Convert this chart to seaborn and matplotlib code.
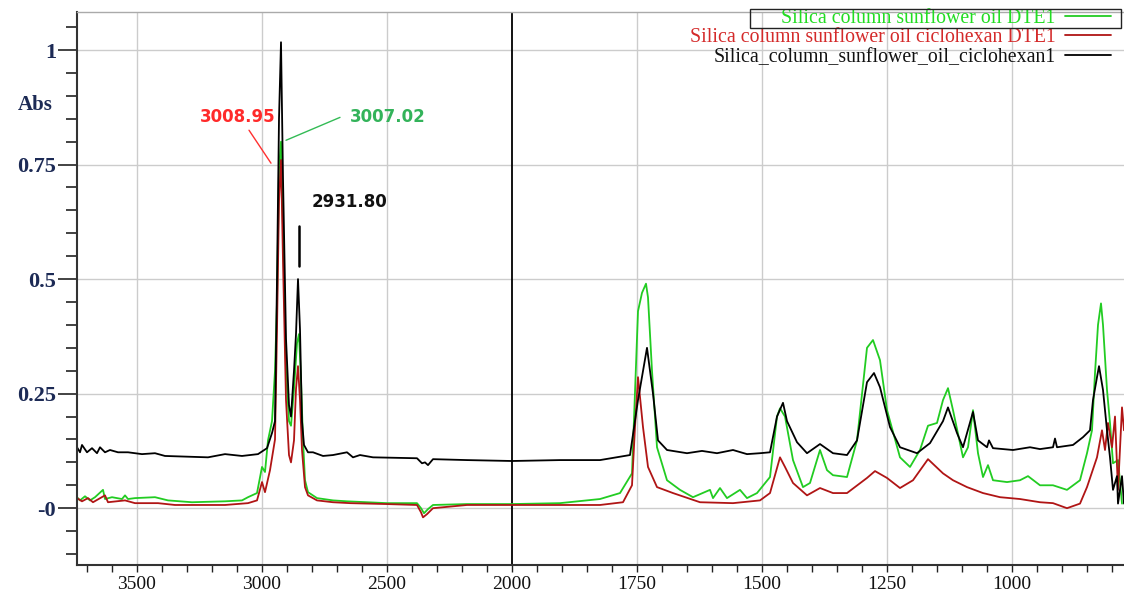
import numpy as np
import pandas as pd
import matplotlib
matplotlib.use("Agg")
import matplotlib.pyplot as plt
import seaborn as sns
from matplotlib.lines import Line2D
from matplotlib.patches import Rectangle
from matplotlib.transforms import blended_transform_factory

# ---------------- data ----------------
series_names = ["Silica column sunflower oil DTE1",
                "Silica column sunflower oil ciclohexan DTE1",
                "Silica_column_sunflower_oil_ciclohexan1"]

wn_green = [3740, 3728, 3708, 3688, 3668, 3636, 3628, 3600, 3560, 3548, 3536, 3508, 3428, 3376, 3280,
            3148, 3080, 3056, 3020, 3000, 2988, 2976, 2960, 2948, 2940, 2932, 2924, 2916, 2904, 2892,
            2884, 2872, 2860, 2852, 2844, 2836, 2828, 2816, 2780, 2716, 2660, 2500, 2380, 2364, 2352,
            2336, 2316, 2180, 2000, 1904, 1824, 1784, 1760, 1748, 1740, 1732, 1728, 1720, 1710, 1690,
            1664, 1638, 1604, 1598, 1584, 1570, 1544, 1530, 1510, 1484, 1470, 1464, 1454, 1438, 1418,
            1404, 1384, 1370, 1358, 1330, 1310, 1290, 1278, 1264, 1250, 1224, 1204, 1184, 1168, 1150,
            1138, 1128, 1118, 1098, 1088, 1078, 1068, 1058, 1048, 1038, 1010, 984, 968, 944, 918,
            890, 864, 850, 840, 834, 828, 822, 818, 810, 804, 798, 788, 780]
abs_green = [0.024, 0.017, 0.026, 0.017, 0.024, 0.040, 0.020, 0.024, 0.020, 0.028, 0.020, 0.022, 0.024, 0.017, 0.013,
             0.015, 0.017, 0.024, 0.033, 0.090, 0.079, 0.148, 0.190, 0.300, 0.450, 0.740, 0.800, 0.610, 0.300, 0.190,
             0.180, 0.260, 0.360, 0.380, 0.280, 0.148, 0.061, 0.035, 0.022, 0.017, 0.015, 0.011, 0.011, 0.000, -0.011,
             -0.002, 0.007, 0.009, 0.009, 0.011, 0.020, 0.033, 0.076, 0.430, 0.470, 0.490, 0.460, 0.300, 0.133, 0.061,
             0.040, 0.024, 0.040, 0.022, 0.044, 0.022, 0.040, 0.022, 0.033, 0.068, 0.200, 0.218, 0.200, 0.105, 0.046,
             0.055, 0.127, 0.083, 0.072, 0.068, 0.148, 0.350, 0.367, 0.323, 0.214, 0.111, 0.090, 0.127, 0.180, 0.186,
             0.236, 0.262, 0.214, 0.111, 0.133, 0.214, 0.120, 0.068, 0.094, 0.061, 0.057, 0.061, 0.070, 0.050, 0.050,
             0.040, 0.061, 0.120, 0.170, 0.295, 0.400, 0.447, 0.400, 0.258, 0.186, 0.098, 0.105, 0.010]

wn_red = [3740, 3720, 3696, 3676, 3628, 3616, 3548, 3508, 3416, 3348, 3148, 3056, 3020, 3000, 2988,
          2968, 2948, 2940, 2932, 2924, 2916, 2904, 2892, 2884, 2872, 2864, 2856, 2848, 2840, 2828,
          2816, 2780, 2716, 2648, 2500, 2380, 2364, 2356, 2340, 2316, 2180, 2000, 1904, 1824, 1778,
          1760, 1754, 1748, 1738, 1728, 1710, 1678, 1624, 1558, 1504, 1484, 1464, 1454, 1438, 1410,
          1384, 1358, 1330, 1290, 1274, 1250, 1224, 1198, 1168, 1138, 1118, 1090, 1058, 1024, 984,
          944, 918, 890, 864, 850, 830, 820, 814, 808, 800, 794, 788, 780, 776]
abs_red = [0.022, 0.015, 0.022, 0.013, 0.028, 0.013, 0.017, 0.011, 0.011, 0.007, 0.007, 0.011, 0.017, 0.057, 0.035,
           0.083, 0.150, 0.390, 0.670, 0.760, 0.540, 0.236, 0.116, 0.100, 0.148, 0.260, 0.310, 0.236, 0.127, 0.046,
           0.028, 0.017, 0.013, 0.011, 0.009, 0.007, -0.009, -0.020, -0.013, 0.000, 0.007, 0.007, 0.007, 0.007, 0.013,
           0.050, 0.177, 0.286, 0.177, 0.090, 0.046, 0.033, 0.013, 0.011, 0.017, 0.033, 0.111, 0.090, 0.055, 0.028,
           0.044, 0.033, 0.033, 0.066, 0.081, 0.066, 0.044, 0.061, 0.107, 0.076, 0.061, 0.046, 0.033, 0.024, 0.020,
           0.013, 0.011, 0.000, 0.010, 0.046, 0.111, 0.170, 0.127, 0.186, 0.133, 0.200, 0.040, 0.220, 0.170]

wn_black = [3740, 3728, 3720, 3700, 3680, 3660, 3648, 3628, 3608, 3576, 3536, 3508, 3480, 3428, 3388,
            3216, 3148, 3080, 3016, 2980, 2960, 2948, 2940, 2932, 2924, 2916, 2904, 2892, 2884, 2872,
            2864, 2856, 2848, 2840, 2832, 2816, 2796, 2756, 2716, 2660, 2636, 2608, 2556, 2380, 2360,
            2348, 2336, 2316, 2180, 2000, 1904, 1824, 1764, 1748, 1730, 1718, 1708, 1690, 1650, 1620,
            1590, 1558, 1530, 1504, 1484, 1470, 1458, 1450, 1430, 1410, 1384, 1358, 1330, 1310, 1290,
            1276, 1264, 1244, 1224, 1190, 1164, 1138, 1128, 1110, 1098, 1078, 1068, 1050, 1046, 1038,
            998, 964, 944, 918, 914, 910, 878, 858, 844, 838, 830, 826, 818, 810, 804,
            798, 790, 788, 780, 776]
abs_black = [0.133, 0.122, 0.138, 0.122, 0.131, 0.120, 0.133, 0.122, 0.127, 0.122, 0.122, 0.120, 0.118, 0.120, 0.114,
             0.111, 0.118, 0.114, 0.118, 0.131, 0.164, 0.190, 0.500, 0.850, 1.017, 0.720, 0.370, 0.225, 0.200, 0.300,
             0.380, 0.500, 0.390, 0.190, 0.138, 0.122, 0.122, 0.114, 0.116, 0.122, 0.111, 0.116, 0.111, 0.109, 0.098,
             0.100, 0.094, 0.107, 0.105, 0.103, 0.105, 0.105, 0.116, 0.236, 0.350, 0.250, 0.148, 0.127, 0.120, 0.125,
             0.120, 0.127, 0.118, 0.120, 0.122, 0.200, 0.230, 0.190, 0.144, 0.120, 0.140, 0.120, 0.116, 0.148, 0.275,
             0.295, 0.264, 0.177, 0.133, 0.120, 0.142, 0.190, 0.220, 0.164, 0.133, 0.210, 0.148, 0.133, 0.148, 0.131,
             0.127, 0.133, 0.129, 0.133, 0.152, 0.133, 0.138, 0.155, 0.170, 0.236, 0.286, 0.310, 0.258, 0.170, 0.111,
             0.040, 0.070, 0.010, 0.070, 0.010]

x_major = [3500, 3000, 2500, 2000, 1750, 1500, 1250, 1000]
y_major = [0, 0.25, 0.5, 0.75, 1]
y_labels = ["-0", "0.25", "0.5", "0.75", "1"]

ann_labels = ["3008.95", "3007.02", "2931.80"]

colors = {series_names[0]: "#22cc22", series_names[1]: "#b01515", series_names[2]: "#000000"}
text_colors = ["#22dd22", "#d42a2a", "#111111"]

df = pd.concat([
    pd.DataFrame({"wn": wn_green, "abs": abs_green, "series": series_names[0]}),
    pd.DataFrame({"wn": wn_red, "abs": abs_red, "series": series_names[1]}),
    pd.DataFrame({"wn": wn_black, "abs": abs_black, "series": series_names[2]}),
], ignore_index=True)

# ---------------- plotting ----------------
sns.set_theme(style="white")
plt.rcParams["font.family"] = ["DejaVu Sans"]

fig = plt.figure(figsize=(11.24, 5.98), dpi=100)
ax = fig.add_axes([77/1124, 1-565/598, 1-77/1124, 553/598])


def fwd(x):
    x = np.asarray(x, dtype=float)
    return np.where(x <= 2000, x, 2000 + (x - 2000) / 2.0)


def inv(u):
    u = np.asarray(u, dtype=float)
    return np.where(u <= 2000, u, 2000 + (u - 2000) * 2.0)


ax.set_xscale("function", functions=(fwd, inv))

sns.lineplot(data=df, x="wn", y="abs", hue="series", hue_order=series_names,
             palette=colors, sort=False, estimator=None, legend=False,
             linewidth=1.3, ax=ax)

ax.set_xlim(3740, 776)
ax.set_ylim(-0.124, 1.083)

# ticks
minor_x = list(range(3700, 2000, -100)) + list(range(1950, 775, -50))
ax.set_xticks(x_major)
ax.set_xticklabels([str(v) for v in x_major])
ax.set_xticks(minor_x, minor=True)
ax.set_yticks(y_major)
ax.set_yticklabels(y_labels)
ax.set_yticks(np.arange(-0.10, 1.06, 0.05), minor=True)

serif = "Liberation Serif"
for lab in ax.get_xticklabels():
    lab.set_fontfamily(serif)
    lab.set_fontsize(14)
    lab.set_color("#111111")
for lab in ax.get_yticklabels():
    lab.set_fontfamily(serif)
    lab.set_fontsize(16)
    lab.set_fontweight("bold")
    lab.set_color("#1c2a55")

ax.tick_params(axis="y", which="major", direction="out", length=14, width=1.2, color="#222222", pad=1, left=True)
ax.tick_params(axis="y", which="minor", direction="out", length=8, width=1.2, color="#222222", left=True)
ax.tick_params(axis="x", which="both", direction="out", length=5, width=1.0, color="#222222", pad=3, bottom=True)

ax.set_xlabel("")
ax.set_ylabel("")

# grid
for v in x_major:
    if v == 2000:
        ax.axvline(v, color="black", lw=1.3, zorder=1)
    else:
        ax.axvline(v, color="#cccccc", lw=1.0, zorder=0)
for v in y_major:
    ax.axhline(v, color="#cccccc", lw=1.0, zorder=0)

for s in ["left", "bottom"]:
    ax.spines[s].set_color("#333333")
    ax.spines[s].set_linewidth(1.5)
ax.spines["top"].set_color("#aaaaaa")
ax.spines["top"].set_linewidth(1.0)
ax.spines["right"].set_visible(False)

# "Abs" label
trans = blended_transform_factory(ax.transAxes, ax.transData)
ax.text(-0.023, 0.88, "Abs", transform=trans, ha="right", va="center",
        fontfamily=serif, fontsize=15, fontweight="bold", color="#1c2a55")

# annotations
ax.plot([3052, 2964], [0.825, 0.753], color="#ff3030", lw=1.0)
ax.text(3096, 0.853, ann_labels[0], color="#ff2a2a", fontsize=12, fontweight="bold",
        ha="center", va="center")
ax.plot([2904, 2688], [0.803, 0.853], color="#33bb55", lw=1.0)
ax.text(2496, 0.853, ann_labels[1], color="#33b35a", fontsize=12, fontweight="bold",
        ha="center", va="center")
ax.plot([2852, 2852], [0.616, 0.528], color="black", lw=1.8)
ax.text(2648, 0.668, ann_labels[2], color="#111111", fontsize=12, fontweight="bold",
        ha="center", va="center")

# legend
handles = [Line2D([0], [0], color=colors[n], lw=1.3) for n in series_names]
leg = ax.legend(handles, series_names, loc="upper right",
                bbox_to_anchor=(1111/1124, 1-9/598), bbox_transform=fig.transFigure,
                frameon=False, markerfirst=False, labelspacing=0.02, handlelength=2.3,
                handletextpad=0.5, borderpad=0.0, borderaxespad=0.0,
                prop={"family": serif, "size": 14.3})
for t, c in zip(leg.get_texts(), text_colors):
    t.set_color(c)

fig.patches.append(Rectangle((750/1124, 1-28/598), (1121-750)/1124, 19/598,
                             transform=fig.transFigure, fill=False, lw=1.0, ec="#222222"))

fig.savefig("out.png", dpi=100)
